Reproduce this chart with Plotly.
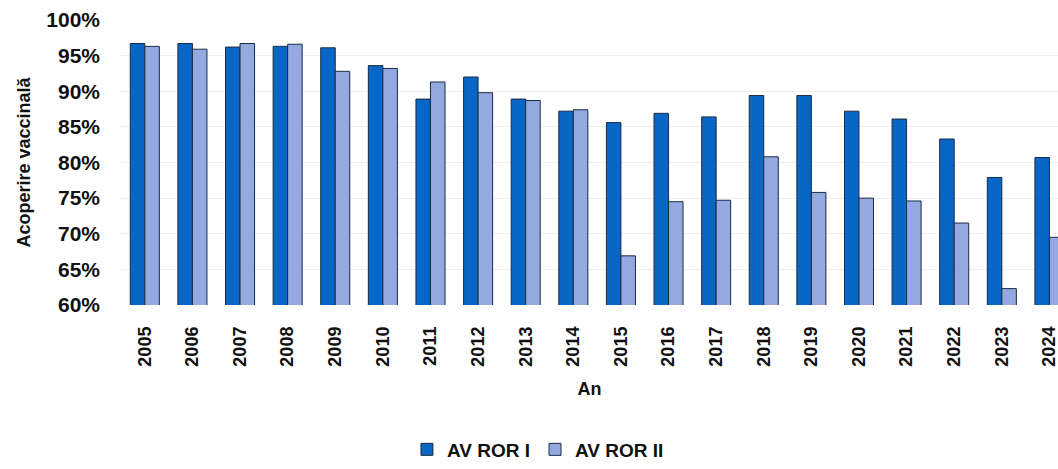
import plotly.graph_objects as go

years = [str(y) for y in range(2005, 2025)]
ror1 = [96.7, 96.7, 96.2, 96.3, 96.1, 93.6, 88.9, 92.0, 88.9, 87.2,
        85.6, 86.9, 86.4, 89.4, 89.4, 87.2, 86.1, 83.3, 77.9, 80.7]
ror2 = [96.3, 95.9, 96.7, 96.6, 92.8, 93.2, 91.3, 89.8, 88.7, 87.4,
        66.9, 74.5, 74.7, 80.8, 75.8, 75.0, 74.6, 71.5, 62.3, 69.5]
series_names = ["AV ROR I", "AV ROR II"]
y_ticks = list(range(60, 101, 5))
y_ticktext = [f"{v}%" for v in y_ticks]

FONT = "Liberation Sans, Arial, sans-serif"

fig = go.Figure()
fig.add_trace(go.Bar(x=years, y=ror1, name=series_names[0],
                     marker=dict(color="#0866C6", line=dict(color="#1b2b44", width=1))))
fig.add_trace(go.Bar(x=years, y=ror2, name=series_names[1],
                     marker=dict(color="#93A9E0", line=dict(color="#1b2b44", width=1))))

fig.update_layout(
    width=1058, height=469,
    margin=dict(l=121, r=0, t=20, b=157),
    paper_bgcolor="white", plot_bgcolor="white",
    barmode="group", bargap=0.39, bargroupgap=0,
    font=dict(family=FONT, color="#111111"),
    showlegend=True,
    legend=dict(orientation="h", x=0.445, xanchor="center", y=-0.507, yanchor="middle",
                font=dict(size=19, weight="bold", family=FONT), itemwidth=30,
                traceorder="normal"),
)
fig.update_yaxes(range=[60, 100], tickmode="array", tickvals=y_ticks, ticktext=y_ticktext,
                 tickfont=dict(size=21, weight="bold", family=FONT),
                 showgrid=True, gridcolor="#efefef", zeroline=False, showline=False,
                 ticks="", ticklabelstandoff=20, automargin=False,
                 title=dict(text="Acoperire vaccinală", standoff=10,
                            font=dict(size=18, weight="bold", family=FONT)))
fig.update_xaxes(type="category", range=[-0.5, 19.18],
                 tickangle=-90, tickfont=dict(size=18, weight="bold", family=FONT),
                 showline=False, ticks="", automargin=False, ticklabelstandoff=17,
                 title=dict(text="An", standoff=16,
                            font=dict(size=18, weight="bold", family=FONT)))

fig.write_html(
    "out.html",
    config={"displayModeBar": False},
    post_script="document.body.style.margin='0';document.body.style.overflow='hidden';"
                "document.documentElement.style.overflow='hidden';",
)
